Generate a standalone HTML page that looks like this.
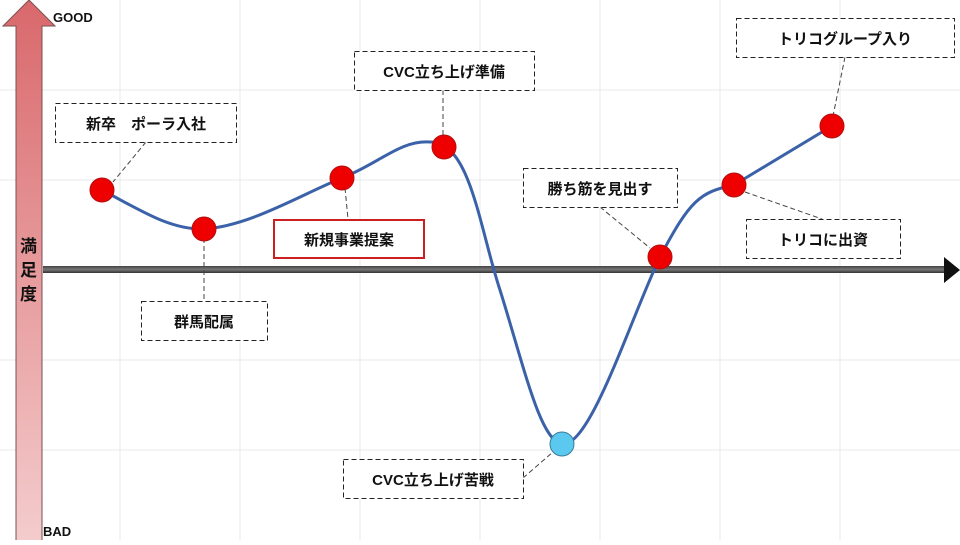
<!DOCTYPE html>
<html><head><meta charset="utf-8"><style>
html,body{margin:0;padding:0;background:#fff}
body{width:960px;height:540px;overflow:hidden;font-family:"Liberation Sans","Noto Sans CJK JP",sans-serif}
</style></head><body>
<svg width="960" height="540" viewBox="0 0 960 540" xmlns="http://www.w3.org/2000/svg">
<defs>
<linearGradient id="ar" x1="0" y1="0" x2="0" y2="1">
<stop offset="0" stop-color="#d9686b"/><stop offset="1" stop-color="#f4cccd"/></linearGradient>
<linearGradient id="ax" x1="0" y1="0" x2="0" y2="1">
<stop offset="0" stop-color="#444"/><stop offset="0.5" stop-color="#777"/><stop offset="1" stop-color="#333"/></linearGradient>
</defs>
<g stroke="#e8e8e8" stroke-width="1">
<line x1="120" y1="0" x2="120" y2="540"/><line x1="240" y1="0" x2="240" y2="540"/>
<line x1="360" y1="0" x2="360" y2="540"/><line x1="480" y1="0" x2="480" y2="540"/>
<line x1="600" y1="0" x2="600" y2="540"/><line x1="720" y1="0" x2="720" y2="540"/>
<line x1="840" y1="0" x2="840" y2="540"/>
<line x1="0" y1="90" x2="960" y2="90"/><line x1="0" y1="180" x2="960" y2="180"/>
<line x1="0" y1="360" x2="960" y2="360"/><line x1="0" y1="450" x2="960" y2="450"/>
</g>
<path d="M16,541 L16,26 L3,26 L29,0 L55,26 L42,26 L42,541 Z" fill="url(#ar)" stroke="#7a5050" stroke-width="1"/>
<text x="53" y="22" font-size="13" font-weight="bold" fill="#111">GOOD</text>
<text x="43" y="536" font-size="13" font-weight="bold" fill="#111">BAD</text>
<text font-size="17" font-weight="bold" fill="#111"><tspan x="20" y="252">満</tspan><tspan x="20" y="276">足</tspan><tspan x="20" y="300">度</tspan></text>
<rect x="43" y="266" width="902" height="7" fill="url(#ax)"/>
<path d="M944,257 L960,270 L944,283 Z" fill="#111"/>
<path d="M102,190 C140,210 170,230 204,229 C250,226 300,195 342,178 C380,163 400,140 430,142 C470,140 480,230 500,290 C525,370 540,440 562,444 C590,448 630,320 660,257 C690,200 700,192 734,185 L832,126" fill="none" stroke="#3b62a9" stroke-width="3"/>
<g stroke="#444" stroke-width="1" stroke-dasharray="5,3" fill="none">
<line x1="146" y1="142" x2="113" y2="182"/>
<line x1="204" y1="238" x2="204" y2="301"/>
<line x1="345" y1="188" x2="348" y2="219"/>
<line x1="443" y1="90" x2="443" y2="138"/>
<line x1="600" y1="207" x2="650" y2="248"/>
<line x1="845" y1="57" x2="833" y2="116"/>
<line x1="745" y1="192" x2="822" y2="219"/>
<line x1="523" y1="478" x2="553" y2="452"/>
</g>
<g fill="#ee0000" stroke="#b01010" stroke-width="1">
<circle cx="102" cy="190" r="12"/><circle cx="204" cy="229" r="12"/>
<circle cx="342" cy="178" r="12"/><circle cx="444" cy="147" r="12"/>
<circle cx="660" cy="257" r="12"/><circle cx="734" cy="185" r="12"/>
<circle cx="832" cy="126" r="12"/>
</g>
<circle cx="562" cy="444" r="12" fill="#5bc8f0" stroke="#3a7d99" stroke-width="1"/>
<g fill="#fff" stroke="#222" stroke-width="1" stroke-dasharray="5,3">
<rect x="55.5" y="103.5" width="181" height="39"/>
<rect x="141.5" y="301.5" width="126" height="39"/>
<rect x="354.5" y="51.5" width="180" height="39"/>
<rect x="523.5" y="168.5" width="154" height="39"/>
<rect x="736.5" y="18.5" width="218" height="39"/>
<rect x="746.5" y="219.5" width="154" height="39"/>
<rect x="343.5" y="459.5" width="180" height="39"/>
</g>
<rect x="274" y="220" width="150" height="38" fill="#fff" stroke="#cc1f1f" stroke-width="2"/>
<g font-size="15" font-weight="bold" fill="#111" text-anchor="middle">
<text x="146" y="129">新卒　ポーラ入社</text>
<text x="204" y="327">群馬配属</text>
<text x="444" y="77">CVC立ち上げ準備</text>
<text x="349" y="245">新規事業提案</text>
<text x="600" y="194">勝ち筋を見出す</text>
<text x="845" y="44">トリコグループ入り</text>
<text x="823" y="245">トリコに出資</text>
<text x="433" y="485">CVC立ち上げ苦戦</text>
</g>
</svg>
</body></html>
